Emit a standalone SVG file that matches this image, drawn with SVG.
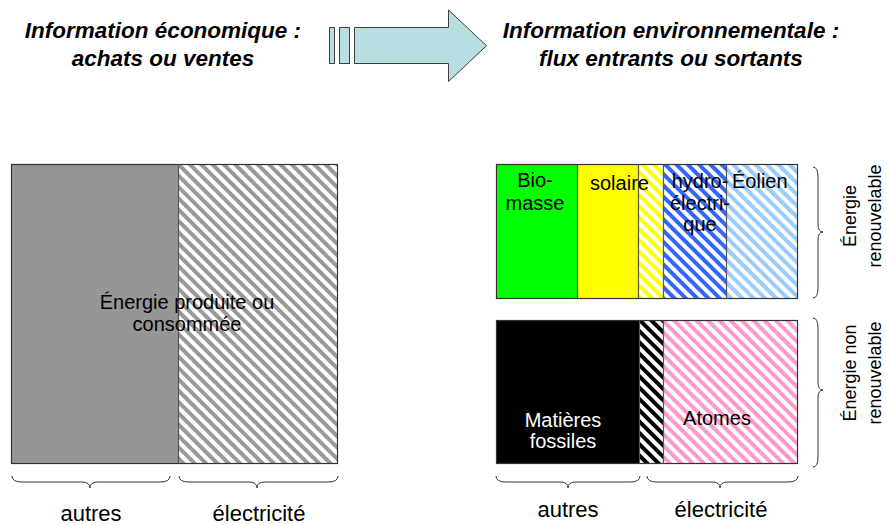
<svg xmlns="http://www.w3.org/2000/svg" width="887" height="525" viewBox="0 0 887 525">
<style>
.t{font-family:"Liberation Sans",Arial,sans-serif;fill:#000;}
.title{font-family:"Liberation Sans",Arial,sans-serif;font-weight:bold;font-style:italic;font-size:22.5px;text-anchor:middle;fill:#000;}
.lbl{font-size:20px;}
.mid{text-anchor:middle;}
.box{stroke:#333;stroke-width:1.2;}
.div{stroke:#555;stroke-width:1.2;fill:none;}
.brace{fill:none;stroke:#333;stroke-width:1;}
</style>
<defs>
<pattern id="hGray" width="8" height="8" patternUnits="userSpaceOnUse" patternTransform="rotate(-45)"><rect width="8" height="8" fill="#fff"/><rect width="4" height="8" fill="#999"/></pattern>
<pattern id="hYellow" width="8" height="8" patternUnits="userSpaceOnUse" patternTransform="rotate(-45)"><rect width="8" height="8" fill="#fff"/><rect width="4" height="8" fill="#ffff00"/></pattern>
<pattern id="hBlue" width="8" height="8" patternUnits="userSpaceOnUse" patternTransform="rotate(-45)"><rect width="8" height="8" fill="#fff"/><rect width="4" height="8" fill="#3366ff"/></pattern>
<pattern id="hLight" width="8" height="8" patternUnits="userSpaceOnUse" patternTransform="rotate(-45)"><rect width="8" height="8" fill="#fff"/><rect width="4" height="8" fill="#99ccff"/></pattern>
<pattern id="hBlack" width="8" height="8" patternUnits="userSpaceOnUse" patternTransform="rotate(-45)"><rect width="8" height="8" fill="#fff"/><rect width="4" height="8" fill="#000"/></pattern>
<pattern id="hPink" width="8" height="8" patternUnits="userSpaceOnUse" patternTransform="rotate(-45)"><rect width="8" height="8" fill="#fff"/><rect width="4" height="8" fill="#ff99cc"/></pattern>
</defs>

<g id="title-eco">
<text class="title" x="163" y="38">Information économique :</text>
<text class="title" x="163" y="66">achats ou ventes</text>
</g>
<g id="title-env">
<text class="title" x="671" y="38">Information environnementale :</text>
<text class="title" x="671" y="66">flux entrants ou sortants</text>
</g>

<g id="big-arrow" fill="#b7dee1" stroke="#404040" stroke-width="1">
<rect x="329.5" y="27.5" width="5" height="36"/>
<rect x="339.5" y="27.5" width="10" height="36"/>
<polygon points="354.5,27.5 448.5,27.5 448.5,10 486.5,45.7 448.5,81.5 448.5,63.5 354.5,63.5"/>
</g>

<g id="energie-totale">
<rect x="11.5" y="164.5" width="167" height="299" fill="#969696"/>
<rect x="178.5" y="164.5" width="159" height="299" fill="url(#hGray)"/>
<rect class="box" x="11.5" y="164.5" width="326" height="299" fill="none"/>
<line class="div" x1="178.5" y1="164.5" x2="178.5" y2="463.5"/>
<text class="t mid lbl" x="187" y="309">Énergie produite ou</text>
<text class="t mid lbl" x="187" y="331">consommée</text>
</g>

<g id="renouvelable">
<rect x="496.5" y="164.5" width="81" height="134" fill="#00ff00"/>
<rect x="577.5" y="164.5" width="61" height="134" fill="#ffff00"/>
<rect x="638.5" y="164.5" width="25" height="134" fill="url(#hYellow)"/>
<rect x="663.5" y="164.5" width="63" height="134" fill="url(#hBlue)"/>
<rect x="726.5" y="164.5" width="71" height="134" fill="url(#hLight)"/>
<rect class="box" x="496.5" y="164.5" width="301" height="134" fill="none"/>
<path class="div" d="M577.5,164.5V298.5M638.5,164.5V298.5M663.5,164.5V298.5M726.5,164.5V298.5"/>
<text class="t mid lbl" x="535" y="187">Bio-</text>
<text class="t mid lbl" x="535" y="210">masse</text>
<text class="t lbl" x="590" y="190">solaire</text>
<text class="t mid lbl" x="700" y="188">hydro-</text>
<text class="t mid lbl" x="700" y="210">électri-</text>
<text class="t mid lbl" x="700" y="231">que</text>
<text class="t lbl" x="732" y="188">Éolien</text>
</g>

<g id="non-renouvelable">
<rect x="496.5" y="320.5" width="143" height="143" fill="#000"/>
<rect x="639.5" y="320.5" width="24" height="143" fill="url(#hBlack)"/>
<rect x="663.5" y="320.5" width="134" height="143" fill="url(#hPink)"/>
<rect class="box" x="496.5" y="320.5" width="301" height="143" fill="none"/>
<path class="div" d="M639.5,320.5V463.5M663.5,320.5V463.5"/>
<text class="t mid lbl" x="563" y="427" style="fill:#fff">Matières</text>
<text class="t mid lbl" x="563" y="448" style="fill:#fff">fossiles</text>
<text class="t mid lbl" x="717" y="425">Atomes</text>
</g>

<g id="connectors">
<path class="brace" d="M12,476 Q12,482 22,482 L82,482 Q90,482 90,488 Q90,482 98,482 L160,482 Q170,482 170,476"/>
<path class="brace" d="M179,476 Q179,482 189,482 L249,482 Q257,482 257,488 Q257,482 265,482 L328,482 Q338,482 338,476"/>
<path class="brace" d="M496,476 Q496,482 506,482 L560,482 Q568,482 568,488 Q568,482 576,482 L630,482 Q640,482 640,476"/>
<path class="brace" d="M647,476 Q647,482 657,482 L712,482 Q720,482 720,488 Q720,482 728,482 L788,482 Q798,482 798,476"/>
<path class="brace" d="M813,167 Q818,167 818,177 L818,224 Q818,232 823,232 Q818,232 818,240 L818,288 Q818,298 813,298"/>
<path class="brace" d="M813,318 Q818,318 818,328 L818,382 Q818,390 823,390 Q818,390 818,398 L818,457 Q818,467 813,467"/>
</g>

<g id="labels-bottom">
<text class="t mid" font-size="22" x="91" y="521">autres</text>
<text class="t mid" font-size="22" x="259" y="521">électricité</text>
<text class="t mid" font-size="22" x="568" y="517">autres</text>
<text class="t mid" font-size="22" x="721" y="517">électricité</text>
</g>

<g id="labels-side">
<text class="t mid" font-size="18" transform="translate(856,216) rotate(-90)">Énergie</text>
<text class="t mid" font-size="18" transform="translate(881,216) rotate(-90)">renouvelable</text>
<text class="t mid" font-size="18" transform="translate(856,373) rotate(-90)">Énergie non</text>
<text class="t mid" font-size="18" transform="translate(881,373) rotate(-90)">renouvelable</text>
</g>
</svg>
